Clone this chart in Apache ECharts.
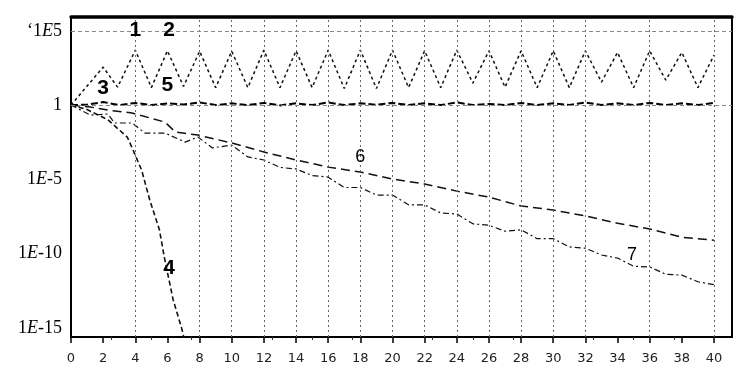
<!DOCTYPE html>
<html><head><meta charset="utf-8">
<script src="https://cdn.jsdelivr.net/npm/echarts@6/dist/echarts.min.js"></script>
<style>html,body{margin:0;padding:0;background:#fff}#c{width:741px;height:383px}</style>
</head><body><div id="c"></div>
<script>
// Tick labels
const xTickValues = [0,2,4,6,8,10,12,14,16,18,20,22,24,26,28,30,32,34,36,38,40];
const yTickValues = [1e-15, 1e-10, 1e-5, 1, 1e5];
const yTickLabels = ['1E-15', '1E-10', '1E-5', '1', '\u20181E5'];
// Reference grid lines drawn in the original
const gridXValues = [4,8,10,12,14,16,18,20,22,24,26,28,30,32,36,40];
const gridYValues = [1, 1e5];

// Curves 1 & 2 (oscillating, with 3 as the first rise)
const oscX = [0,1,2,2.9,4,5,6,7,8,9,10,11,12,13,14,15,16,17,18,19,20,21,22,23,24,25,26,27,28,29,30,31,32,33,34,35,36,37,38,39,40];
const oscY = [1,19,360,16,5000,15,4500,18,4200,15,4200,15,5000,15,4500,15,5000,13,5000,13,5000,15,4500,15,5000,30,4500,16,4500,15,4500,15,4500,35,3500,15,4500,48,3500,15,2300];

// Curve 5 (flat near 1)
const c5X = [0,1,2,3,4,5,6,7,8,9,10,11,12,13,14,15,16,17,18,19,20,21,22,23,24,25,26,27,28,29,30,31,32,33,34,35,36,37,38,39,40];
const c5Y = [1,1.05,1.6,1.0,1.4,1.0,1.3,1.1,1.5,1.0,1.3,1.0,1.4,0.95,1.3,1.0,1.5,1.0,1.3,1.05,1.4,1.0,1.3,1.0,1.5,1.0,1.2,1.0,1.4,1.0,1.3,1.0,1.5,1.0,1.3,1.0,1.4,1.0,1.3,1.0,1.4];

// Curve 4 (steep drop)
const c4X = [0,1,2.3,3.5,3.85,4.4,4.9,5.5,5.8,6.35,6.9,7.2];
const c4Y = [1,0.5,0.1,7e-3,1e-3,4e-5,4e-7,4e-9,6e-11,8e-14,8e-16,3e-17];

// Curve 6
const c6X = [0,1.2,2.3,3.8,5.85,6.5,7.9,10,12,14,16,18,20,22,24,26,28,30,32,34,36,38,40];
const c6Y = [1,0.74,0.46,0.29,0.071,0.015,9.5e-3,2.8e-3,6.9e-4,2e-4,6.6e-5,3.1e-5,1.05e-5,4.8e-6,1.6e-6,6.3e-7,1.6e-7,8.5e-8,3.4e-8,1.1e-8,4.5e-9,1.26e-9,8e-10];

// Curve 7
const c7X = [0,1.2,2.3,2.7,3.8,4.6,5.85,7.1,7.9,8.8,10,11,12,13,14,15,16,17,18,19,20,21,22,23,24,25,26,27,28,29,30,31,32,33,34,35,36,37,38,39,40];
const c7Y = [1,0.21,0.25,0.062,0.062,0.013,0.013,3.2e-3,7e-3,1.3e-3,2e-3,3.2e-4,2e-4,6.3e-5,5e-5,1.8e-5,1.4e-5,2.8e-6,2.8e-6,8.7e-7,8.7e-7,1.9e-7,1.9e-7,5.4e-8,4.6e-8,1e-8,8e-9,3.2e-9,4e-9,1e-9,1e-9,2.8e-10,2.3e-10,8e-11,5e-11,1.4e-11,1.26e-11,4e-12,3.5e-12,1.26e-12,8e-13];

// Curve number annotations (anchor in data space)
const annotText = ['1','2','3','4','5','6','7'];
const annotX = [4, 6.1, 2, 6.1, 6, 18, 34.9];
const annotY = [1.1e5, 1.1e5, 14, 1e-11, 22, 3e-4, 8e-11];

const pairs = (xs, ys) => xs.map((x, i) => [x, ys[i]]);
const chart = echarts.init(document.getElementById('c'), null, {renderer: 'canvas'});

const lineBase = {type: 'line', symbol: 'none', smooth: false, clip: true, silent: true, animation: false};

const option = {
  backgroundColor: '#fff',
  animation: false,
  grid: {left: 71, right: 9, top: 17, bottom: 46, show: true, borderColor: '#000', borderWidth: 2, backgroundColor: 'transparent'},
  xAxis: [{
    type: 'value', min: 0, max: 41.12,
    axisLine: {show: true, onZero: false, lineStyle: {color: '#000', width: 2}},
    axisTick: {show: true, customValues: xTickValues, length: 6, lineStyle: {color: '#000', width: 1.5}},
    minorTick: {show: true, splitNumber: 4, length: 3, lineStyle: {color: '#333'}},
    axisLabel: {customValues: xTickValues, color: '#222', fontFamily: 'DejaVu Sans', fontSize: 13, margin: 15},
    splitLine: {show: false}
  }, {
    type: 'value', position: 'top', min: 0, max: 41.12,
    axisLine: {show: true, onZero: false, lineStyle: {color: '#000', width: 3.5}},
    axisTick: {show: false}, axisLabel: {show: false}, splitLine: {show: false}
  }],
  yAxis: {
    type: 'log', logBase: 10, min: Math.pow(10, -15.62), max: Math.pow(10, 5.93),
    axisLine: {show: true, onZero: false, lineStyle: {color: '#000', width: 2}},
    axisTick: {show: false},
    axisLabel: {
      customValues: yTickValues,
      color: '#000', fontFamily: 'Liberation Serif', fontSize: 18, margin: 9,
      formatter: function (v) {
        const k = Math.round(Math.log10(v));
        const i = yTickValues.findIndex(t => Math.round(Math.log10(t)) === k);
        if (i < 0) return '';
        return yTickLabels[i].replace('E', '{i|E}');
      },
      rich: {i: {fontStyle: 'italic', fontFamily: 'Liberation Serif', fontSize: 18, color: '#000'}}
    },
    splitLine: {show: false}
  },
  series: [
    Object.assign({}, lineBase, {
      name: 'grid', data: [], z: 1,
      markLine: {
        silent: true, symbol: 'none', animation: false,
        label: {show: false},
        lineStyle: {color: '#666', width: 1, type: [2, 3]},
        data: gridXValues.map(v => ({xAxis: v})).concat(gridYValues.map(v => ({yAxis: v, lineStyle: {color: '#888', type: [4, 3]}})))
      }
    }),
    Object.assign({}, lineBase, {
      name: '1-2', z: 3, data: pairs(oscX, oscY),
      lineStyle: {color: '#111', width: 1.5, type: [3, 3]}
    }),
    Object.assign({}, lineBase, {
      name: '5', z: 3, data: pairs(c5X, c5Y),
      lineStyle: {color: '#000', width: 2, type: [7, 3]}
    }),
    Object.assign({}, lineBase, {
      name: '4', z: 3, data: pairs(c4X, c4Y),
      lineStyle: {color: '#111', width: 1.6, type: [5, 3]}
    }),
    Object.assign({}, lineBase, {
      name: '6', z: 3, data: pairs(c6X, c6Y),
      lineStyle: {color: '#111', width: 1.5, type: [9, 5]}
    }),
    Object.assign({}, lineBase, {
      name: '7', z: 3, data: pairs(c7X, c7Y),
      lineStyle: {color: '#111', width: 1.2, type: [6, 3, 2, 3]},
      markPoint: {
        silent: true, animation: false, symbol: 'circle', symbolSize: 0,
        label: {show: true, position: 'inside', color: '#000', fontFamily: 'Liberation Sans', fontSize: 21, fontWeight: 'bold'},
        data: annotText.map((t, i) => ({
          coord: [annotX[i], annotY[i]],
          label: Object.assign({formatter: t}, i >= 5 ? {fontSize: 18, fontWeight: 'normal'} : {})
        }))
      }
    })
  ]
};
chart.setOption(option);
</script>
</body></html>
